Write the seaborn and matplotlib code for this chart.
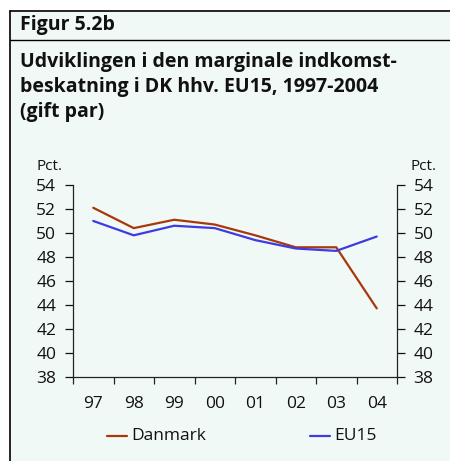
"""Marginal income tax, Denmark vs EU15, 1997-2004 (married couple)."""
import numpy as np
import pandas as pd
import seaborn as sns
import matplotlib.pyplot as plt
from matplotlib.patches import Rectangle
from matplotlib.lines import Line2D

YEARS = ['97', '98', '99', '00', '01', '02', '03', '04']
DANMARK = [52.1, 50.4, 51.1, 50.7, 49.8, 48.8, 48.8, 43.7]
EU15 = [51.0, 49.8, 50.6, 50.4, 49.4, 48.7, 48.5, 49.7]
Y_TICKS = [38, 40, 42, 44, 46, 48, 50, 52, 54]
TITLE_LINES = ['Udviklingen i den marginale indkomst-',
               'beskatning i DK hhv. EU15, 1997-2004',
               '(gift par)']

BG = '#f1f9f7'
C_DK = '#a8380c'
C_EU = '#3c3ce0'
INK = '#111111'

W, H = 450, 461

sns.set_theme(style='white')
plt.rcParams['font.family'] = ['Open Sans', 'DejaVu Sans']

df = pd.DataFrame({
    'pos': list(range(len(YEARS))) * 2,
    'value': DANMARK + EU15,
    'serie': ['Danmark'] * len(YEARS) + ['EU15'] * len(YEARS),
})

fig = plt.figure(figsize=(W / 100, H / 100), dpi=100, facecolor='white')

def fx(px):
    return px / W

def fy(py):
    return 1 - py / H

# mint panel with frame lines
fig.patches.append(Rectangle((fx(9.5), 0), 1 - fx(9.5), fy(11.5), transform=fig.transFigure,
                             facecolor=BG, edgecolor='none', zorder=-10))
fig.add_artist(Line2D([fx(9.5), 1], [fy(11.5), fy(11.5)], color='black', lw=1.2))
fig.add_artist(Line2D([fx(9.5), fx(9.5)], [0, fy(11.5)], color='black', lw=1.2))
fig.add_artist(Line2D([fx(9.5), 1], [fy(40.5), fy(40.5)], color='black', lw=1.0))

fig.text(fx(20), fy(30), 'Figur 5.2b', fontsize=14, fontweight='bold', color=INK,
         va='baseline')
for i, line in enumerate(TITLE_LINES):
    fig.text(fx(20), fy(66.5 + 25.5 * i), line, fontsize=14, fontweight='bold',
             color=INK, va='baseline')

ax = fig.add_axes([fx(73), fy(376.7), fx(397) - fx(73), fy(185) - fy(376.7)])
ax.set_facecolor('none')

sns.lineplot(data=df, x='pos', y='value', hue='serie', palette=[C_DK, C_EU],
             linewidth=1.6, ax=ax, legend=False)

ax.set_xlim(-0.5, len(YEARS) - 0.5)
ax.set_ylim(38, 54)
ax.set_yticks(Y_TICKS)
ax.set_xticks(range(len(YEARS)))
ax.set_xticklabels(YEARS)
ax.set_xticks(np.arange(-0.5, len(YEARS)), minor=True)
ax.tick_params(axis='x', which='major', length=0, pad=14, labelsize=12.5, colors=INK)
ax.tick_params(axis='x', which='minor', length=5, width=0.9, direction='out', color='#222222',
               bottom=True)
ax.tick_params(axis='y', length=6, width=0.9, direction='out', labelsize=12.5, colors=INK,
               left=True, pad=6)
ax.set_xlabel('')
ax.set_ylabel('')
for s in ['top', 'right']:
    ax.spines[s].set_visible(False)
for s in ['left', 'bottom']:
    ax.spines[s].set_color('#222222')
    ax.spines[s].set_linewidth(0.9)
ax.grid(False)

ax2 = ax.twinx()
ax2.set_ylim(38, 54)
ax2.set_yticks(Y_TICKS)
ax2.tick_params(axis='y', length=6, width=0.9, direction='out', labelsize=12.5, colors=INK,
                right=True, pad=6)
for s in ['top', 'left', 'bottom']:
    ax2.spines[s].set_visible(False)
ax2.spines['right'].set_color('#222222')
ax2.spines['right'].set_linewidth(0.9)
ax2.grid(False)

fig.text(fx(62), fy(167), 'Pct.', fontsize=11, ha='right', va='center', color=INK)
fig.text(fx(410), fy(167), 'Pct.', fontsize=11, ha='left', va='center', color=INK)

# legend
for x0, col, lab in [(107, C_DK, 'Danmark'), (310, C_EU, 'EU15')]:
    fig.add_artist(Line2D([fx(x0), fx(x0 + 20)], [fy(436), fy(436)], color=col, lw=1.6))
    fig.text(fx(x0 + 24), fy(436), lab, fontsize=12.5, va='center', color=INK)

fig.savefig('out.png', dpi=100, facecolor='white')
